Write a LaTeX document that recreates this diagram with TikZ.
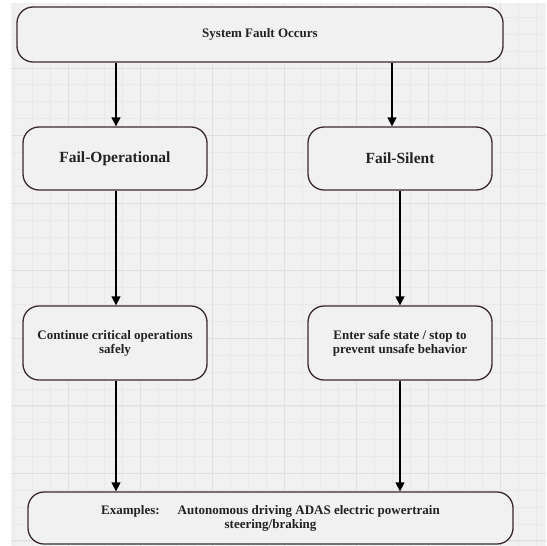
\documentclass[tikz,border=0pt]{standalone}
\usepackage{fontspec}
\setmainfont{Liberation Serif}
\usetikzlibrary{arrows.meta}
\definecolor{bggray}{HTML}{F1F1F1}
\definecolor{minorgrid}{HTML}{E9E9E9}
\definecolor{majorgrid}{HTML}{E0E0E0}
\definecolor{boxline}{HTML}{3A2A2C}
\definecolor{txt}{HTML}{222222}
\tikzset{
  flowbox/.style={draw=boxline, line width=1.3pt, rounded corners=16pt, fill=bggray, align=center, font=\bfseries\fontsize{13}{14}\selectfont, text=txt, inner sep=0pt},
  headbox/.style={flowbox, font=\bfseries\fontsize{15.5}{17}\selectfont},
  arr/.style={draw=black, line width=1.3pt, -{Triangle[width=9pt,length=9pt]}},
}
\begin{document}
\begin{tikzpicture}[x=1pt,y=-1pt]
\useasboundingbox (0,0) rectangle (546,546);
\fill[white] (0,0) rectangle (546,546);
\fill[bggray] (11,3) rectangle (546,546);
% minor grid
\foreach \gx in {14,32,...,546} \draw[minorgrid, line width=0.6pt] (\gx,3) -- (\gx,546);
\foreach \gy in {17.1,34,...,546} \draw[minorgrid, line width=0.6pt] (11,\gy) -- (546,\gy);
% major grid
\foreach \gx in {68,140,...,546} \draw[majorgrid, line width=0.9pt] (\gx,3) -- (\gx,546);
\foreach \gy in {68,135.5,...,546} \draw[majorgrid, line width=0.9pt] (11,\gy) -- (546,\gy);

\node[flowbox, minimum width=486pt, minimum height=55pt] (top) at (260,34.5) {System Fault Occurs};
\node[headbox, minimum width=184pt, minimum height=63pt] (fo) at (115,158.5) {Fail-Operational};
\node[headbox, minimum width=184pt, minimum height=63pt] (fs) at (400,158.5) {Fail-Silent};
\node[flowbox, minimum width=184pt, minimum height=74pt] (cont) at (115,343) {Continue critical operations\\safely};
\node[flowbox, minimum width=184pt, minimum height=74pt] (safe) at (400,343) {Enter safe state / stop to\\prevent unsafe behavior};
\node[flowbox, minimum width=485pt, minimum height=52pt] (ex) at (270.5,518) {Examples:\hspace{18pt}Autonomous driving ADAS electric powertrain\\steering/braking};

\coordinate (fsin) at ([xshift=-8pt]fs.north);
\coordinate (foin) at ([xshift=1pt]fo.north);
\draw[arr] (top.south -| foin) -- (foin);
\draw[arr] (top.south -| fsin) -- (fsin);
\draw[arr] ([xshift=1pt]fo.south) -- ([xshift=1pt]cont.north);
\draw[arr] (fs.south) -- (safe.north);
\draw[arr] ([xshift=1pt]cont.south) -- (ex.north -| foin);
\draw[arr] (safe.south) -- (ex.north -| safe.south);
\end{tikzpicture}
\end{document}
